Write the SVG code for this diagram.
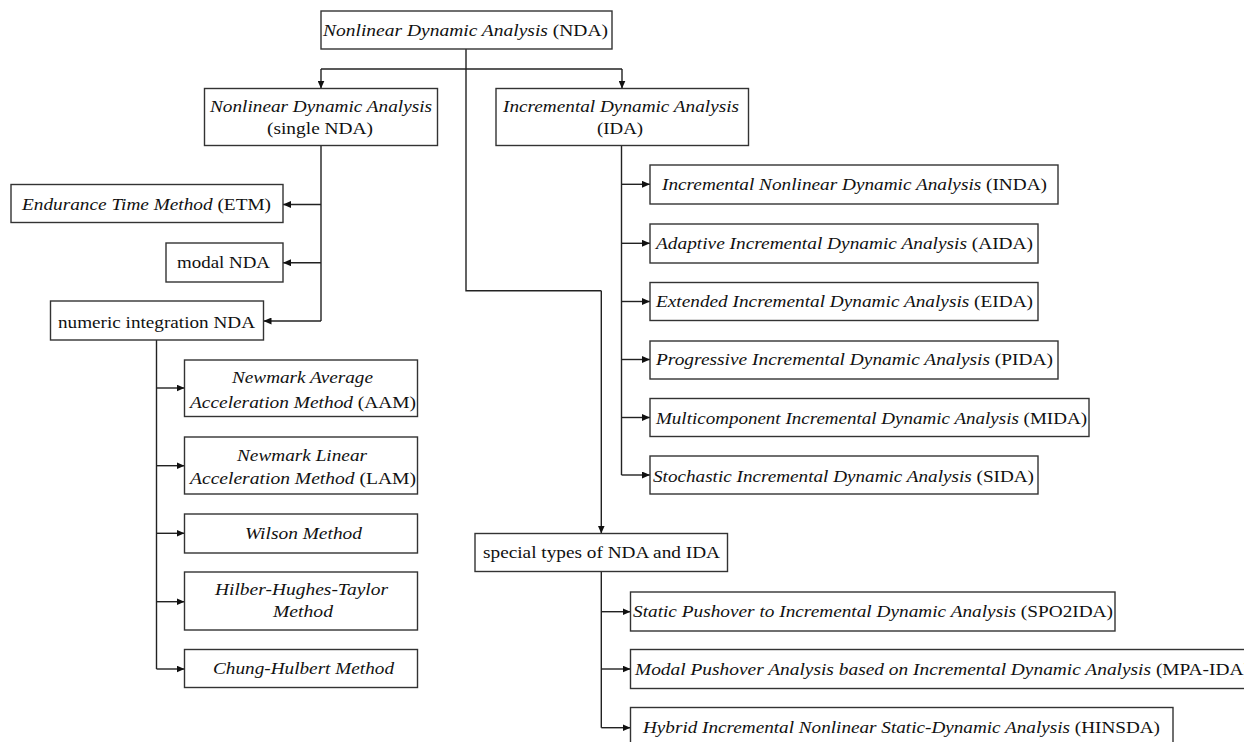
<svg xmlns="http://www.w3.org/2000/svg" width="1244" height="742" viewBox="0 0 1244 742">
<defs>
<marker id="arr" markerUnits="userSpaceOnUse" markerWidth="8" markerHeight="7" refX="8" refY="3.5" orient="auto">
<path d="M0,0 L8,3.5 L0,7 z" fill="#111"/>
</marker>
<style>
.box{fill:#fff;stroke:#333;stroke-width:1.4}
.ln{fill:none;stroke:#222;stroke-width:1.4}
.ar{fill:none;stroke:#222;stroke-width:1.4;marker-end:url(#arr)}
text{font-family:'Liberation Serif',serif;font-size:17.5px;fill:#111}
.i{font-style:italic}
</style>
</defs>
<rect width="1244" height="742" fill="#fff"/>
<g id="connectors">
<path class="ln" d="M466,49 V290.7 H601.3"/>
<path class="ar" d="M601.3,290.7 V533.5"/>
<path class="ln" d="M321,69 H622"/>
<path class="ar" d="M321,69 V88.5"/>
<path class="ar" d="M622,69 V88.5"/>
<path class="ln" d="M321,145.5 V321"/>
<path class="ar" d="M321,204.5 H283"/>
<path class="ar" d="M321,262.7 H283"/>
<path class="ar" d="M321,321 H263.5"/>
<path class="ln" d="M156.5,340 V669"/>
<path class="ar" d="M156.5,388 H184.5"/>
<path class="ar" d="M156.5,465.7 H184.5"/>
<path class="ar" d="M156.5,533.3 H184.5"/>
<path class="ar" d="M156.5,601.7 H184.5"/>
<path class="ar" d="M156.5,669 H184.5"/>
<path class="ln" d="M621.5,145.5 V475"/>
<path class="ar" d="M621.5,184.3 H650"/>
<path class="ar" d="M621.5,243.3 H650"/>
<path class="ar" d="M621.5,301.5 H650"/>
<path class="ar" d="M621.5,359.5 H650"/>
<path class="ar" d="M621.5,417.5 H650"/>
<path class="ar" d="M621.5,475 H650"/>
<path class="ln" d="M601.3,571.5 V727.7"/>
<path class="ar" d="M601.3,611.7 H630.5"/>
<path class="ar" d="M601.3,669 H630.5"/>
<path class="ar" d="M601.3,727.7 H630.5"/>
</g>
<g font-family="Liberation Serif, serif">
<g id="n-nda"><rect class="box" x="321" y="11" width="291" height="38"/>
<text x="323" y="36" textLength="285" lengthAdjust="spacingAndGlyphs"><tspan class="i">Nonlinear Dynamic Analysis</tspan> (NDA)</text></g>
<g id="n-single"><rect class="box" x="204.5" y="88.5" width="233" height="57"/>
<text class="i" x="210" y="111.7" textLength="222" lengthAdjust="spacingAndGlyphs">Nonlinear Dynamic Analysis</text>
<text x="267" y="133.5" textLength="106" lengthAdjust="spacingAndGlyphs">(single NDA)</text></g>
<g id="n-ida"><rect class="box" x="496" y="88.5" width="252.5" height="57"/>
<text class="i" x="503" y="111.7" textLength="236" lengthAdjust="spacingAndGlyphs">Incremental Dynamic Analysis</text>
<text x="597" y="133.5" textLength="46" lengthAdjust="spacingAndGlyphs">(IDA)</text></g>
<g id="n-etm"><rect class="box" x="11" y="184.5" width="272" height="38"/>
<text x="22" y="210" textLength="249" lengthAdjust="spacingAndGlyphs"><tspan class="i">Endurance Time Method</tspan> (ETM)</text></g>
<g id="n-modal"><rect class="box" x="166" y="243" width="117" height="39"/>
<text x="177" y="268" textLength="93" lengthAdjust="spacingAndGlyphs">modal NDA</text></g>
<g id="n-numeric"><rect class="box" x="50.5" y="301" width="213" height="39"/>
<text x="58" y="327.5" textLength="197" lengthAdjust="spacingAndGlyphs">numeric integration NDA</text></g>
<g id="n-aam"><rect class="box" x="184.5" y="360" width="233" height="56.5"/>
<text class="i" x="232" y="383" textLength="141" lengthAdjust="spacingAndGlyphs">Newmark Average</text>
<text x="190" y="407.5" textLength="226" lengthAdjust="spacingAndGlyphs"><tspan class="i">Acceleration Method</tspan> (AAM)</text></g>
<g id="n-lam"><rect class="box" x="184.5" y="437" width="233" height="57"/>
<text class="i" x="237" y="460.5" textLength="130" lengthAdjust="spacingAndGlyphs">Newmark Linear</text>
<text x="190" y="484" textLength="226" lengthAdjust="spacingAndGlyphs"><tspan class="i">Acceleration Method</tspan> (LAM)</text></g>
<g id="n-wilson"><rect class="box" x="184.5" y="514" width="233" height="39"/>
<text class="i" x="245" y="539" textLength="117" lengthAdjust="spacingAndGlyphs">Wilson Method</text></g>
<g id="n-hht"><rect class="box" x="184.5" y="572" width="233" height="58"/>
<text class="i" x="215" y="595" textLength="173" lengthAdjust="spacingAndGlyphs">Hilber-Hughes-Taylor</text>
<text class="i" x="273" y="617" textLength="60" lengthAdjust="spacingAndGlyphs">Method</text></g>
<g id="n-chung"><rect class="box" x="184.5" y="649.5" width="233" height="38"/>
<text class="i" x="213" y="674" textLength="181" lengthAdjust="spacingAndGlyphs">Chung-Hulbert Method</text></g>
<g id="n-inda"><rect class="box" x="650" y="165" width="408" height="39"/>
<text x="662" y="190" textLength="385" lengthAdjust="spacingAndGlyphs"><tspan class="i">Incremental Nonlinear Dynamic Analysis</tspan> (INDA)</text></g>
<g id="n-aida"><rect class="box" x="650" y="224" width="388" height="39"/>
<text x="656" y="249.3" textLength="377" lengthAdjust="spacingAndGlyphs"><tspan class="i">Adaptive Incremental Dynamic Analysis</tspan> (AIDA)</text></g>
<g id="n-eida"><rect class="box" x="650" y="282.5" width="388" height="38"/>
<text x="656" y="306.7" textLength="377" lengthAdjust="spacingAndGlyphs"><tspan class="i">Extended Incremental Dynamic Analysis</tspan> (EIDA)</text></g>
<g id="n-pida"><rect class="box" x="650" y="341" width="408" height="38"/>
<text x="656" y="365" textLength="397" lengthAdjust="spacingAndGlyphs"><tspan class="i">Progressive Incremental Dynamic Analysis</tspan> (PIDA)</text></g>
<g id="n-mida"><rect class="box" x="650" y="398.5" width="439" height="38"/>
<text x="656" y="424" textLength="431" lengthAdjust="spacingAndGlyphs"><tspan class="i">Multicomponent Incremental Dynamic Analysis</tspan> (MIDA)</text></g>
<g id="n-sida"><rect class="box" x="650" y="456" width="388" height="38"/>
<text x="653" y="481.7" textLength="381" lengthAdjust="spacingAndGlyphs"><tspan class="i">Stochastic Incremental Dynamic Analysis</tspan> (SIDA)</text></g>
<g id="n-special"><rect class="box" x="475" y="533.5" width="252.5" height="38"/>
<text x="483" y="558" textLength="237" lengthAdjust="spacingAndGlyphs">special types of NDA and IDA</text></g>
<g id="n-spo2ida"><rect class="box" x="630.5" y="592" width="484.5" height="39"/>
<text x="633" y="616.7" textLength="480" lengthAdjust="spacingAndGlyphs"><tspan class="i">Static Pushover to Incremental Dynamic Analysis</tspan> (SPO2IDA)</text></g>
<g id="n-mpaida"><rect class="box" x="630.5" y="649.5" width="630" height="39"/>
<text x="635" y="675" textLength="615" lengthAdjust="spacingAndGlyphs"><tspan class="i">Modal Pushover Analysis based on Incremental Dynamic Analysis</tspan> (MPA-IDA)</text></g>
<g id="n-hinsda"><rect class="box" x="630.5" y="707.5" width="542.5" height="40"/>
<text x="643" y="733" textLength="517" lengthAdjust="spacingAndGlyphs"><tspan class="i">Hybrid Incremental Nonlinear Static-Dynamic Analysis</tspan> (HINSDA)</text></g>
</g>
</svg>
